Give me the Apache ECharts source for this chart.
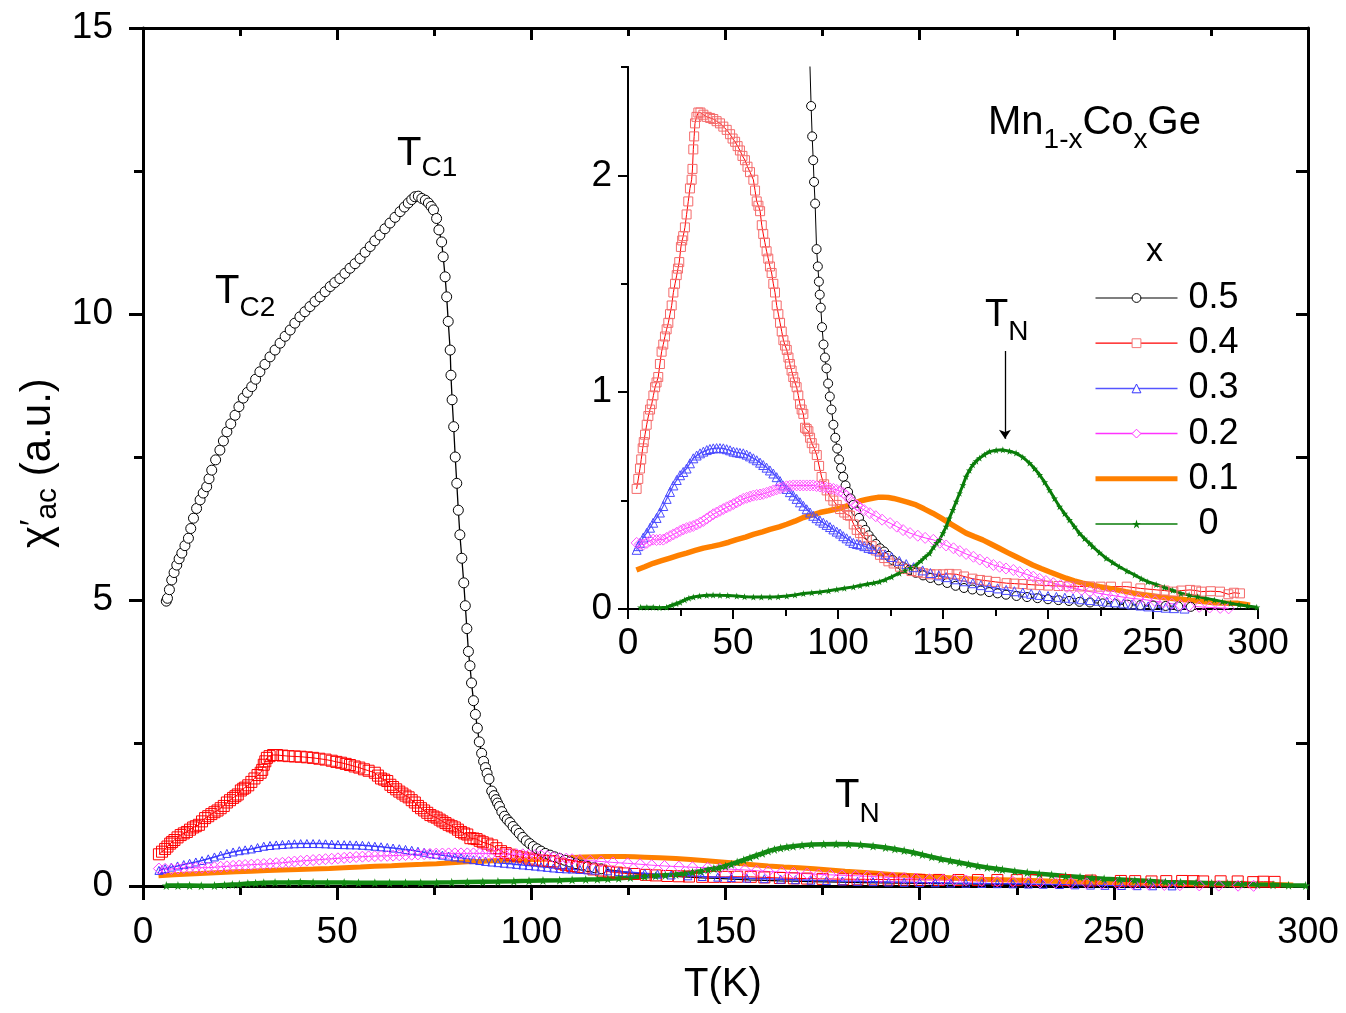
<!DOCTYPE html>
<html><head><meta charset="utf-8">
<script src="https://cdn.jsdelivr.net/npm/echarts@6/dist/echarts.min.js"></script>
<style>html,body{margin:0;padding:0;background:#fff}#c{width:1346px;height:1013px}</style>
</head><body><div id="c"></div>
<script>
const FONT = '"Liberation Sans", Arial, Helvetica, sans-serif';

// ---------- data: [T (K), chi'_ac (a.u.)] ----------
const x05 = [[6.0,4.98],[6.3,5.03],[6.8,5.18],[7.4,5.35],[8.0,5.48],[8.7,5.61],[9.3,5.72],[10.0,5.82],[10.8,5.95],[11.7,6.08],[12.3,6.25],[13.0,6.43],[13.8,6.60],[14.7,6.75],[15.5,6.87],[16.4,6.98],[17.0,7.12],[17.7,7.27],[18.7,7.45],[19.8,7.62],[20.7,7.78],[21.6,7.94],[22.6,8.08],[23.7,8.23],[24.7,8.38],[25.8,8.53],[26.9,8.63],[28.0,8.73],[29.0,8.86],[30.1,8.99],[31.4,9.12],[32.7,9.25],[34.0,9.37],[35.3,9.49],[36.6,9.61],[37.9,9.72],[39.1,9.84],[40.4,9.95],[41.7,10.04],[43.0,10.13],[44.3,10.22],[45.6,10.30],[46.9,10.39],[48.2,10.48],[49.4,10.55],[50.7,10.62],[52.0,10.71],[53.3,10.80],[54.6,10.88],[55.9,10.97],[57.2,11.08],[58.5,11.18],[59.7,11.28],[61.0,11.38],[62.3,11.49],[63.6,11.59],[64.9,11.69],[66.2,11.79],[67.3,11.87],[68.3,11.94],[69.2,12.00],[70.0,12.05],[70.9,12.06],[71.8,12.02],[72.7,11.99],[73.5,11.94],[74.2,11.88],[74.8,11.82],[75.6,11.67],[76.2,11.47],[76.9,11.26],[77.3,11.00],[77.8,10.65],[78.2,10.30],[78.6,9.87],[79.1,9.37],[79.3,8.93],[79.6,8.50],[80.0,8.03],[80.4,7.50],[80.8,7.04],[81.2,6.57],[81.6,6.14],[82.1,5.73],[82.6,5.30],[83.0,4.90],[83.4,4.50],[83.8,4.10],[84.2,3.85],[84.6,3.55],[85.1,3.24],[85.6,3.00],[86.1,2.76],[86.6,2.52],[87.2,2.32],[87.7,2.18],[88.2,2.07],[88.6,1.97],[89.1,1.87],[89.8,1.66],[90.4,1.58],[90.9,1.51],[91.3,1.45],[91.8,1.39],[92.4,1.30],[93.1,1.22],[93.8,1.16],[94.5,1.11],[95.3,1.04],[96.1,0.98],[96.9,0.92],[97.8,0.85],[98.7,0.79],[99.6,0.74],[100.5,0.69],[101.5,0.65],[102.5,0.61],[103.6,0.57],[104.8,0.54],[106.0,0.51],[107.3,0.48],[108.6,0.45],[110.0,0.42],[111.5,0.39],[113.0,0.365],[114.6,0.34],[116.2,0.32],[118.0,0.30],[120.0,0.28],[122.0,0.265],[124.0,0.245],[126.0,0.226],[128.5,0.21],[131.0,0.195],[134.0,0.18],[137.0,0.167],[140.5,0.155],[144.0,0.143],[148.0,0.132],[152.0,0.12],[156.0,0.107],[160.0,0.097],[164.0,0.09],[168.0,0.085],[172.0,0.078],[176.0,0.072],[180.0,0.066],[185.0,0.06],[190.0,0.055],[195.0,0.05],[200.0,0.045],[205.0,0.041],[210.0,0.037],[215.0,0.033],[220.0,0.03],[226.0,0.026],[232.0,0.023],[238.0,0.02],[244.0,0.018],[250.0,0.016],[256.0,0.014],[262.0,0.012],[268.0,0.01]];

const x04 = [[4.1,0.554],[4.9,0.60],[5.7,0.648],[6.3,0.69],[7.0,0.741],[7.5,0.77],[8.1,0.804],[8.9,0.85],[9.7,0.89],[10.5,0.92],[11.3,0.945],[12.1,0.985],[12.9,1.023],[13.6,1.045],[14.4,1.07],[15.2,1.13],[16.0,1.187],[16.8,1.22],[17.6,1.257],[18.4,1.29],[19.2,1.32],[20.0,1.36],[20.8,1.40],[21.6,1.46],[22.4,1.50],[23.2,1.54],[23.8,1.57],[24.4,1.60],[25.2,1.67],[25.8,1.70],[26.3,1.72],[27.1,1.76],[27.9,1.82],[28.7,1.88],[29.5,1.94],[30.3,1.98],[30.7,2.03],[31.1,2.12],[31.5,2.18],[31.9,2.24],[32.6,2.27],[33.5,2.29],[34.5,2.29],[35.9,2.28],[37.5,2.27],[39.1,2.265],[40.6,2.26],[42.2,2.25],[43.8,2.24],[45.4,2.225],[47.0,2.21],[48.6,2.19],[49.8,2.17],[51.0,2.155],[52.2,2.135],[53.3,2.115],[54.5,2.09],[55.7,2.07],[56.9,2.04],[58.1,2.015],[59.7,1.98],[60.5,1.93],[61.3,1.88],[62.1,1.86],[62.9,1.835],[63.7,1.77],[64.4,1.73],[65.2,1.69],[66.0,1.65],[66.8,1.616],[67.6,1.58],[68.4,1.55],[69.2,1.50],[70.0,1.46],[70.8,1.40],[71.6,1.36],[72.4,1.32],[73.2,1.28],[74.0,1.24],[74.8,1.215],[75.6,1.195],[76.4,1.16],[77.1,1.13],[77.9,1.10],[78.7,1.07],[79.5,1.045],[80.3,1.023],[81.1,0.985],[81.9,0.945],[82.7,0.92],[83.5,0.90],[84.3,0.836],[85.1,0.83],[85.9,0.82],[86.7,0.79],[87.5,0.765],[88.7,0.74],[89.9,0.71],[91.0,0.66],[92.2,0.609],[93.4,0.575],[94.6,0.547],[96.2,0.52],[97.8,0.50],[99.4,0.48],[101.0,0.461],[103.0,0.445],[104.6,0.434],[105.7,0.43],[107.5,0.39],[108.9,0.365],[110.5,0.35],[112.0,0.33],[113.7,0.318],[116,0.29],[118,0.27],[120,0.25],[122,0.235],[124,0.22],[126.5,0.21],[129.5,0.195],[132,0.185],[135,0.175],[138,0.17],[140.6,0.165],[144,0.16],[147,0.16],[150,0.16],[153,0.162],[156.5,0.16],[160,0.15],[164,0.14],[167.6,0.134],[171,0.13],[175,0.125],[180.3,0.119],[184,0.117],[188,0.115],[192,0.112],[196,0.11],[200,0.108],[205,0.106],[210,0.105],[215,0.104],[220,0.104],[225,0.103],[230,0.103],[237.5,0.103],[244,0.095],[251.8,0.088],[255.5,0.085],[259.7,0.08],[263.5,0.085],[267.6,0.088],[270.5,0.085],[273,0.08],[277.5,0.082],[281.9,0.08],[285.9,0.068],[288.5,0.075],[291.4,0.072]];

const x03 = [[4.1,0.273],[4.9,0.29],[5.7,0.305],[7.3,0.33],[8.9,0.351],[10.5,0.375],[12.0,0.398],[13.6,0.42],[15.2,0.445],[16.8,0.475],[18.4,0.508],[20.0,0.54],[21.6,0.57],[23.2,0.595],[24.8,0.617],[26.3,0.632],[27.9,0.648],[29.5,0.672],[31.1,0.695],[32.7,0.708],[34.3,0.718],[35.9,0.726],[37.5,0.733],[39.0,0.738],[40.6,0.741],[42.2,0.742],[43.8,0.742],[45.4,0.741],[47.0,0.737],[48.6,0.732],[50.2,0.726],[51.8,0.723],[53.3,0.72],[54.9,0.718],[56.5,0.712],[58.1,0.704],[59.7,0.695],[61.3,0.686],[62.9,0.675],[64.4,0.664],[66.0,0.652],[67.6,0.639],[69.2,0.625],[70.8,0.608],[72.4,0.59],[73.9,0.57],[75.5,0.554],[77.1,0.539],[78.7,0.523],[80.3,0.508],[81.9,0.492],[83.5,0.476],[85.1,0.46],[86.7,0.445],[88.2,0.43],[89.8,0.419],[91.4,0.408],[93.0,0.398],[94.6,0.388],[96.2,0.378],[97.8,0.367],[99.4,0.357],[101,0.348],[102.5,0.336],[104.1,0.326],[105.7,0.315],[107.3,0.305],[109,0.3],[110.5,0.297],[112.5,0.29],[114.5,0.282],[116.5,0.277],[119.7,0.265],[122.5,0.252],[125.5,0.24],[129.2,0.222],[132.5,0.207],[136,0.193],[140.3,0.178],[144,0.166],[148,0.155],[151.5,0.147],[155.5,0.137],[160,0.128],[164.2,0.119],[168,0.11],[172,0.102],[176,0.095],[180.1,0.088],[184,0.082],[188,0.076],[192,0.07],[196,0.065],[200,0.06],[204,0.056],[208,0.052],[211.9,0.049],[216,0.045],[220,0.041],[224,0.038],[228,0.034],[231.8,0.031],[236,0.026],[240,0.021],[244,0.016],[247.7,0.012],[252,0.009],[256,0.006],[260,0.004],[265,0.002]];

const x02 = [[4.1,0.305],[5.7,0.30],[7.3,0.297],[9.0,0.305],[10.5,0.315],[12.0,0.32],[13.6,0.318],[15.2,0.32],[16.8,0.32],[18.4,0.328],[20.0,0.336],[21.6,0.344],[23.2,0.352],[24.8,0.36],[26.3,0.367],[27.9,0.373],[29.5,0.378],[31.1,0.383],[32.7,0.39],[34.3,0.398],[35.9,0.406],[37.5,0.417],[39.0,0.427],[40.6,0.437],[42.2,0.445],[43.8,0.453],[45.4,0.461],[47.0,0.469],[48.6,0.476],[50.2,0.484],[51.8,0.492],[53.3,0.5],[54.9,0.508],[56.5,0.513],[58.1,0.518],[59.7,0.523],[61.3,0.526],[62.9,0.528],[64.4,0.531],[66.0,0.536],[67.6,0.541],[69.2,0.547],[70.8,0.552],[72.4,0.557],[73.9,0.562],[75.5,0.566],[77.1,0.568],[78.7,0.57],[80.3,0.57],[81.9,0.57],[83.5,0.57],[85.1,0.57],[86.7,0.57],[88.2,0.57],[89.8,0.567],[91.4,0.565],[93,0.562],[94.6,0.559],[96.2,0.556],[97.8,0.554],[99.4,0.549],[101,0.543],[102.5,0.535],[104.1,0.522],[105.7,0.503],[107.3,0.49],[109,0.478],[110.5,0.468],[112.5,0.456],[115.2,0.442],[118,0.428],[121,0.412],[124.8,0.396],[128,0.38],[131,0.364],[134.3,0.35],[138,0.338],[141.5,0.328],[145.4,0.319],[148.5,0.306],[151.5,0.293],[155,0.28],[158,0.267],[161,0.254],[164.5,0.241],[167.5,0.228],[171,0.215],[174,0.203],[177,0.195],[180,0.187],[183.5,0.18],[186.5,0.17],[190,0.159],[193,0.149],[196,0.139],[199,0.129],[202.5,0.119],[206,0.11],[209,0.102],[212,0.096],[216,0.088],[220,0.08],[224,0.073],[228,0.066],[231,0.062],[235,0.056],[239,0.05],[243,0.046],[247,0.042],[251,0.036],[255,0.03],[259,0.024],[263,0.018],[267,0.014],[272,0.01],[277,0.007],[282,0.005],[286,0.003]];

const x01 = [[4,0.18],[8,0.195],[12,0.211],[16,0.223],[20,0.235],[24,0.247],[27.9,0.258],[32,0.27],[35.9,0.281],[40,0.289],[43.8,0.297],[48,0.308],[51.7,0.32],[56,0.332],[59.7,0.344],[64,0.356],[67.6,0.367],[72,0.379],[75.6,0.391],[79.5,0.405],[83.5,0.422],[87.5,0.433],[91.4,0.445],[95.5,0.453],[99.4,0.461],[103.5,0.473],[107.3,0.488],[110.5,0.498],[113.5,0.505],[116.5,0.511],[119,0.515],[121.3,0.516],[124,0.514],[126.5,0.51],[129.2,0.503],[133,0.493],[137.2,0.48],[141,0.462],[145.1,0.442],[149,0.42],[153,0.396],[157,0.373],[161,0.35],[165,0.334],[168.9,0.319],[172.8,0.3],[176.8,0.28],[180.8,0.26],[184.8,0.241],[188.8,0.222],[192.7,0.203],[196.7,0.187],[200.6,0.172],[204.6,0.157],[208.6,0.142],[212.5,0.13],[216.5,0.119],[220.7,0.111],[224.6,0.103],[228.6,0.096],[232.8,0.088],[237,0.08],[241.3,0.072],[245.5,0.066],[250,0.06],[254,0.054],[258.3,0.05],[262.5,0.046],[266.7,0.042],[271,0.037],[275,0.033],[279.4,0.029],[283,0.028],[287,0.027],[290.5,0.026],[293.5,0.022],[296.2,0.018]];

const x00 = [[6,0.008],[9,0.008],[12,0.008],[15,0.006],[18.4,0.008],[21,0.018],[23,0.025],[24.8,0.031],[27,0.042],[29,0.05],[31.1,0.055],[34,0.06],[37.5,0.063],[40.5,0.064],[43.8,0.063],[47.5,0.062],[51.8,0.06],[55.5,0.057],[59.7,0.055],[63.5,0.055],[67.6,0.055],[71.5,0.057],[75.6,0.06],[79.5,0.065],[83.5,0.071],[87.5,0.075],[91.4,0.078],[95.5,0.084],[99.4,0.09],[103,0.096],[107.3,0.102],[110.5,0.108],[114,0.115],[117,0.12],[119.7,0.126],[122.5,0.135],[125.5,0.148],[129.2,0.165],[132,0.178],[134.5,0.19],[137.2,0.203],[139.5,0.222],[141.5,0.24],[143.6,0.257],[145.5,0.285],[147,0.305],[148.3,0.319],[150,0.35],[151.5,0.38],[153,0.418],[154.7,0.457],[156.3,0.496],[157.9,0.534],[159.5,0.572],[161,0.611],[162.6,0.64],[164.2,0.665],[165.8,0.682],[167.4,0.696],[169.7,0.712],[172.1,0.726],[175.3,0.732],[178.5,0.734],[181.7,0.728],[184.8,0.719],[188,0.7],[191.2,0.673],[193.6,0.648],[196,0.619],[198.4,0.585],[200.7,0.549],[203.1,0.51],[205.5,0.472],[207.9,0.44],[210.2,0.411],[212.6,0.38],[215,0.349],[217.4,0.325],[219.8,0.303],[221.3,0.288],[224.5,0.26],[227.7,0.234],[230.8,0.214],[234,0.195],[237.6,0.175],[241.3,0.157],[244.4,0.14],[247.5,0.126],[251.5,0.113],[255.4,0.1],[259.4,0.086],[263.3,0.072],[267.2,0.064],[271.2,0.057],[275.2,0.049],[279.2,0.042],[283,0.034],[287,0.026],[291,0.02],[295,0.014],[299.4,0.008]];

// ---------- ticks ----------
const mainXTicks = [0, 50, 100, 150, 200, 250, 300];
const mainYTicks = [0, 5, 10, 15];
const insetXTicks = [0, 50, 100, 150, 200, 250, 300];
const insetYTicks = [0, 1, 2];
const insetYMinor = [0.5, 1.5, 2.5];
const legendNames = ['0.5', '0.4', '0.3', '0.2', '0.1', ' 0'];

const STAR = 'path://M50,0 L61,35 98,35 68,57 79,91 50,70 21,91 32,57 2,35 39,35 Z';

const chart = echarts.init(document.getElementById('c'), null, {renderer: 'canvas'});

// text helpers (sub-scripts laid out piecewise)
const mctx = document.createElement('canvas').getContext('2d');
function tw(t, s) { mctx.font = s + 'px ' + FONT; return mctx.measureText(t).width; }
function txt(t, s, x, y) {
  return {type: 'text', x: x, y: y, silent: true,
    style: {text: t, fontSize: s, fontFamily: FONT, fill: '#000',
      align: 'left', verticalAlign: 'middle', textAlign: 'left', textVerticalAlign: 'middle'}};
}
// pieces: [text, size, dy]
function richGroup(pcs, x, y, rot) {
  let cx = 0; const ch = [];
  pcs.forEach(p => { ch.push(txt(p[0], p[1], cx, p[2])); cx += tw(p[0], p[1]); });
  return {type: 'group', x: x, y: y, rotation: rot || 0, silent: true, children: ch};
}

const BIG = 40, SUB = 28;

function axisCommon(w) {
  return {
    axisLine: {show: true, onZero: false, lineStyle: {color: '#000', width: w}},
    splitLine: {show: false}
  };
}

const xAxes = [
  Object.assign({gridIndex: 0, type: 'value', min: 0, max: 300, interval: 50, position: 'bottom',
    axisTick: {show: true, inside: false, length: 14, lineStyle: {color: '#000', width: 3}, customValues: mainXTicks},
    minorTick: {show: true, splitNumber: 2, length: 9, lineStyle: {color: '#000', width: 3}},
    axisLabel: {show: true, customValues: mainXTicks, fontSize: 37, fontFamily: FONT, color: '#000', margin: 28}}, axisCommon(3)),
  Object.assign({gridIndex: 0, type: 'value', min: 0, max: 300, interval: 50, position: 'top',
    axisTick: {show: true, inside: true, length: 12, lineStyle: {color: '#000', width: 3}},
    minorTick: {show: true, splitNumber: 2, length: 8, lineStyle: {color: '#000', width: 3}},
    axisLabel: {show: false}}, axisCommon(3)),
  Object.assign({gridIndex: 1, type: 'value', min: 0, max: 300, interval: 50, position: 'bottom',
    axisTick: {show: true, inside: false, length: 10, lineStyle: {color: '#000', width: 2}, customValues: insetXTicks},
    minorTick: {show: true, splitNumber: 2, length: 7, lineStyle: {color: '#000', width: 2}},
    axisLabel: {show: true, customValues: insetXTicks, fontSize: 37, fontFamily: FONT, color: '#000', margin: 16}}, axisCommon(2))
];

const yAxes = [
  Object.assign({gridIndex: 0, type: 'value', min: 0, max: 15, interval: 5, position: 'left',
    axisTick: {show: true, inside: false, length: 14, lineStyle: {color: '#000', width: 3}, customValues: mainYTicks},
    minorTick: {show: true, splitNumber: 2, length: 9, lineStyle: {color: '#000', width: 3}},
    axisLabel: {show: true, customValues: mainYTicks, fontSize: 37, fontFamily: FONT, color: '#000', margin: 30}}, axisCommon(3)),
  Object.assign({gridIndex: 0, type: 'value', min: 0, max: 15, interval: 5, position: 'right',
    axisTick: {show: true, inside: true, length: 12, lineStyle: {color: '#000', width: 3}},
    minorTick: {show: true, splitNumber: 2, length: 12, lineStyle: {color: '#000', width: 3}},
    axisLabel: {show: false}}, axisCommon(3)),
  Object.assign({gridIndex: 1, type: 'value', min: 0, max: 2.5, position: 'left',
    axisTick: {show: true, inside: false, length: 10, lineStyle: {color: '#000', width: 2}, customValues: insetYTicks},
    minorTick: {show: false},
    axisLabel: {show: true, customValues: insetYTicks, fontSize: 37, fontFamily: FONT, color: '#000', margin: 16}}, axisCommon(2)),
  Object.assign({gridIndex: 1, type: 'value', min: 0, max: 2.5, position: 'left',
    axisTick: {show: true, inside: false, length: 7, lineStyle: {color: '#000', width: 2}, customValues: insetYMinor},
    axisLabel: {show: false}}, axisCommon(2))
];

function ser(name, data, grid, o) {
  return Object.assign({
    type: 'line', name: name, data: data,
    xAxisIndex: grid === 0 ? 0 : 2, yAxisIndex: grid === 0 ? 0 : 2,
    clip: true, silent: true, animation: false, emphasis: {disabled: true}, z: 3
  }, o);
}
function hollow(col, w) { return {color: 'rgba(0,0,0,0)', borderColor: col, borderWidth: w || 1}; }

const series = [
  // inset (named for legend)
  ser(legendNames[0], x05, 1, {symbol: 'circle', symbolSize: 9, itemStyle: {color: '#fff', borderColor: '#000', borderWidth: 1}, lineStyle: {color: '#000', width: 1}}),
  ser(legendNames[1], x04, 1, {symbol: 'rect', symbolSize: 9, itemStyle: hollow('#f46a6a'), lineStyle: {color: '#f00', width: 1}}),
  ser(legendNames[2], x03, 1, {symbol: 'triangle', symbolSize: 9, itemStyle: hollow('#4a4aff'), lineStyle: {color: '#4a4aff', width: 1.2}}),
  ser(legendNames[3], x02, 1, {symbol: 'diamond', symbolSize: 11, itemStyle: hollow('#ff55ff'), lineStyle: {color: '#ff33ff', width: 1}}),
  ser(legendNames[4], x01, 1, {symbol: 'none', showSymbol: false, itemStyle: {color: '#ff8000'}, lineStyle: {color: '#ff8000', width: 5.5}}),
  ser(legendNames[5], x00, 1, {symbol: STAR, symbolSize: 7, itemStyle: {color: '#0a7d0a'}, lineStyle: {color: '#0a7d0a', width: 3},
    markLine: {silent: true, animation: false, symbol: ['none', 'arrow'], symbolSize: 9, label: {show: false},
      lineStyle: {color: '#000', width: 1.3, type: 'solid'},
      data: [[{coord: [179.5, 1.19]}, {coord: [179.5, 0.785]}]]}}),
  // main
  ser('m05', x05, 0, {symbol: 'circle', symbolSize: v => (v[0] > 118 ? 0 : 10), itemStyle: {color: '#fff', borderColor: '#000', borderWidth: 1}, lineStyle: {color: '#000', width: 1.3}}),
  ser('m04', x04, 0, {symbol: 'rect', symbolSize: 11, itemStyle: hollow('#ff0000'), lineStyle: {color: '#f00', width: 1}}),
  ser('m03', x03, 0, {symbol: 'triangle', symbolSize: 8, itemStyle: hollow('#3838ff'), lineStyle: {color: '#3838ff', width: 1.5}}),
  ser('m02', x02, 0, {symbol: 'diamond', symbolSize: 11, itemStyle: hollow('#ff40ff'), lineStyle: {color: '#ff40ff', width: 1}}),
  ser('m01', x01, 0, {symbol: 'none', showSymbol: false, lineStyle: {color: '#ff8000', width: 5}}),
  ser('m00', x00, 0, {symbol: STAR, symbolSize: 9, itemStyle: {color: '#138a13'}, lineStyle: {color: '#138a13', width: 4.5}})
];

const graphics = [
  // y-axis title (rotated)
  richGroup([['\u03c7', 42, 0], ['\u2032', 34, -4], ['ac', 30, 10], [' (a.u.)', 42, 0]], 38, 548, Math.PI / 2),
  // x-axis title
  txt('T(K)', 40, 684, 985),
  // compound formula
  richGroup([['Mn', 40, 0], ['1-x', 28, 17], ['Co', 40, 0], ['x', 28, 17], ['Ge', 40, 0]], 988, 123),
  // annotations
  richGroup([['T', BIG, 0], ['C1', SUB, 14]], 397, 154),
  richGroup([['T', BIG, 0], ['C2', SUB, 16]], 215, 292),
  richGroup([['T', BIG, 0], ['N', SUB, 18]], 835, 796),
  richGroup([['T', 38, 0], ['N', SUB, 16]], 985, 316),
  // legend title
  txt('x', 34, 1146, 252)
];

chart.setOption({
  animation: false,
  backgroundColor: '#fff',
  textStyle: {fontFamily: FONT},
  grid: [
    {left: 143, top: 28, width: 1165, height: 858, containLabel: false, outerBoundsMode: 'none'},
    {left: 628, top: 67, width: 630, height: 542, containLabel: false, outerBoundsMode: 'none'}
  ],
  xAxis: xAxes,
  yAxis: yAxes,
  legend: {
    show: true, orient: 'vertical', left: 1093, top: 280, padding: 0,
    itemWidth: 82, itemHeight: 11, itemGap: 9.2, selectedMode: false,
    textStyle: {fontSize: 36, fontFamily: FONT, color: '#000', lineHeight: 34, padding: [0, 0, 0, 6]},
    data: [
      {name: legendNames[0], itemStyle: {color: '#fff', borderColor: '#000', borderWidth: 1}, lineStyle: {color: '#555', width: 1.5}},
      {name: legendNames[1], itemStyle: {color: '#fff', borderColor: '#f47a7a', borderWidth: 1}, lineStyle: {color: '#f00', width: 1.2}},
      {name: legendNames[2], itemStyle: {color: '#fff', borderColor: '#3333ff', borderWidth: 1}, lineStyle: {color: '#5555ff', width: 1.5}},
      {name: legendNames[3], itemStyle: {color: '#fff', borderColor: '#ff33ff', borderWidth: 1}, lineStyle: {color: '#ff33ff', width: 1.5}},
      {name: legendNames[4], itemStyle: {opacity: 0}, lineStyle: {color: '#ff8000', width: 5}},
      {name: legendNames[5], itemStyle: {color: '#0a7d0a'}, lineStyle: {color: '#0a7d0a', width: 1.5}}
    ]
  },
  series: series,
  graphic: graphics
});
</script></body></html>
